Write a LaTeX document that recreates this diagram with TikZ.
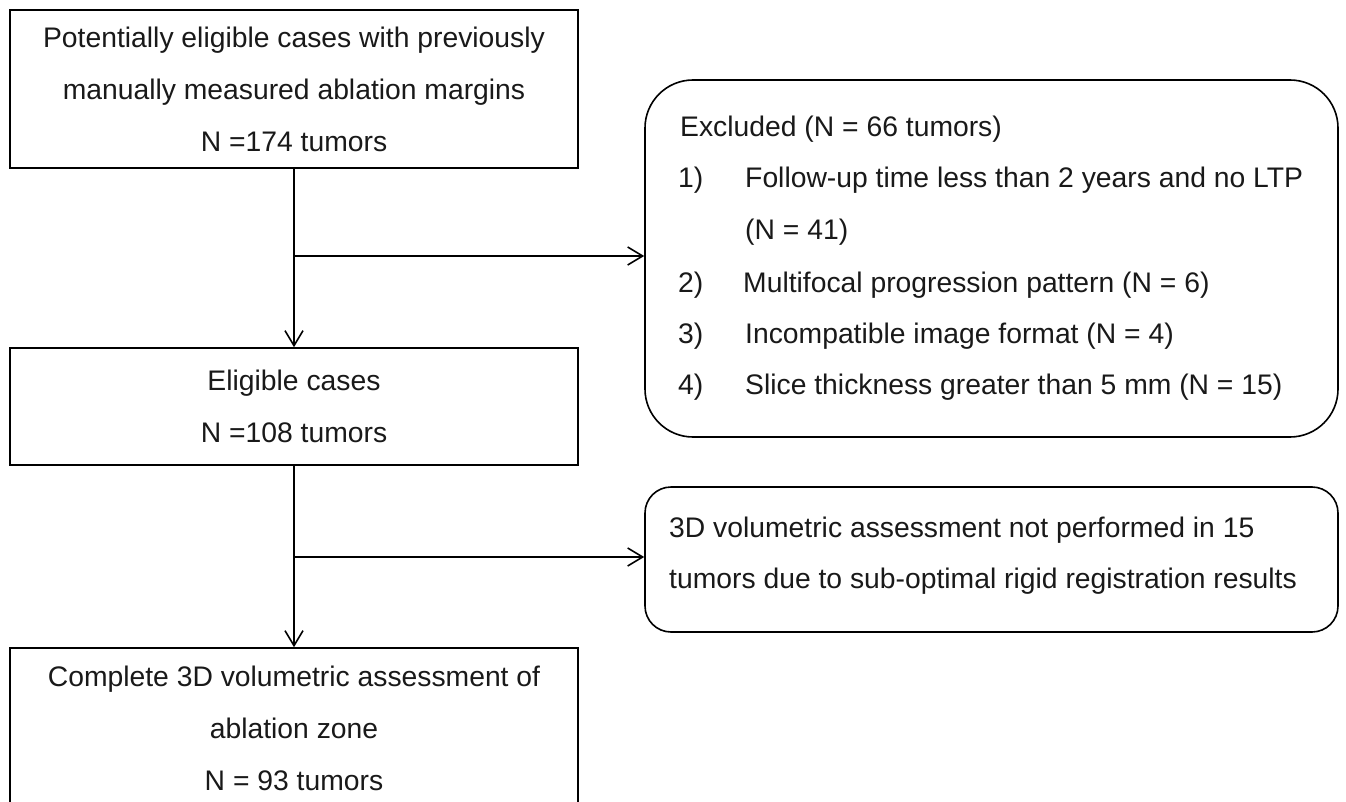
\documentclass[tikz,border=0pt]{standalone}
\usepackage{fontspec}
\setmainfont{Liberation Sans}
\usetikzlibrary{arrows.meta}
\begin{document}
\begin{tikzpicture}[x=1pt,y=-1pt,
  every node/.style={font=\fontsize{28.3}{52}\selectfont, text=black!90},
  sqbox/.style={draw, line width=1.6pt, rectangle, inner sep=0pt, align=center},
  rbox/.style={draw, line width=1.6pt, rectangle, inner sep=0pt},
  txt/.style={anchor=base west, inner sep=0pt},
  arr/.style={line width=1.6pt, -{Straight Barb[length=15pt,width=18pt,line width=1.6pt]}}]
\useasboundingbox (0,0) rectangle (1346,802);
\begin{scope}
\clip (0,0) rectangle (1346,802);
\node[sqbox, minimum width=568pt, minimum height=158pt] (b1) at (294,89)
  {Potentially eligible cases with previously\\manually measured ablation margins\\N =174 tumors};
\node[sqbox, minimum width=568pt, minimum height=117pt] (b2) at (294,406.5)
  {Eligible cases\\N =108 tumors};
\node[sqbox, minimum width=568pt, minimum height=160pt] (b4) at (294,728)
  {Complete 3D volumetric assessment of\\ablation zone\\N = 93 tumors};
\node[rbox, rounded corners=48pt, minimum width=693pt, minimum height=357pt] (ex) at (991.5,258.5) {};
\node[rbox, rounded corners=26pt, minimum width=693pt, minimum height=145pt] (nv) at (991.5,559.5) {};

\node[txt] (e0) at (680,137) {Excluded (N = 66 tumors)};
\node[txt] (e1n) at (678,188) {1)};
\node[txt] (e1) at (745,188) {Follow-up time less than 2 years and no LTP};
\node[txt] (e1b) at (745,240) {(N = 41)};
\node[txt] (e2n) at (678,292) {2)};
\node[txt] (e2) at (743,292) {Multifocal progression pattern (N = 6)};
\node[txt] (e3n) at (678,343) {3)};
\node[txt] (e3) at (745,343) {Incompatible image format (N = 4)};
\node[txt] (e4n) at (678,394) {4)};
\node[txt] (e4) at (745,394) {Slice thickness greater than 5 mm (N = 15)};

\node[txt] (n1) at (669,537) {3D volumetric assessment not performed in 15};
\node[txt] (n2) at (669,588) {tumors due to sub-optimal rigid registration results};

\coordinate (j1) at (b1.south |- 0,256);
\coordinate (j2) at (b2.south |- 0,557);
\draw[arr] (b1.south) -- (b2.north);
\draw[arr] (j1) -- (j1 -| ex.west);
\draw[arr] (b2.south) -- (b4.north);
\draw[arr] (j2) -- (j2 -| nv.west);
\end{scope}
\end{tikzpicture}
\end{document}
